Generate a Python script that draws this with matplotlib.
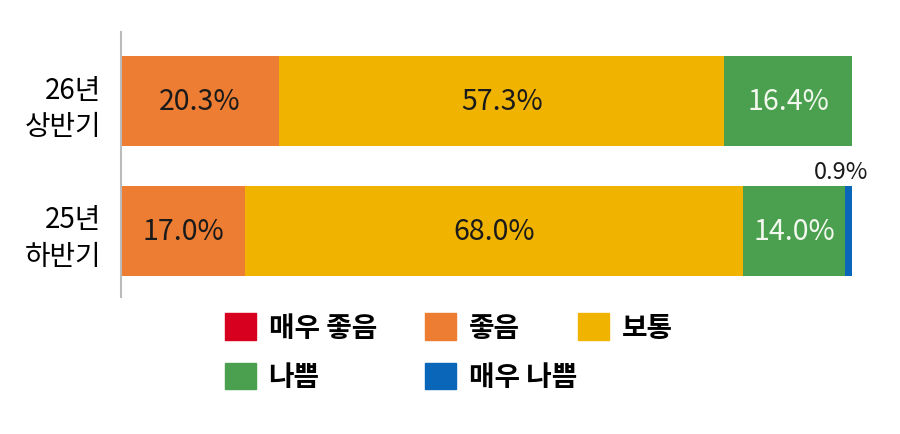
import matplotlib.pyplot as plt
from matplotlib.patches import Patch

plt.rcParams['font.family'] = ['Noto Sans CJK KR', 'DejaVu Sans']

periods = ["25년\n하반기", "26년\n상반기"]
categories = ["매우 좋음", "좋음", "보통", "나쁨", "매우 나쁨"]
colors = ["#D7001F", "#EC7D32", "#F0B400", "#4AA04F", "#0A66B8"]
# rows follow periods order (bottom bar first)
values = [
    [0.0, 17.0, 68.0, 14.0, 0.9],
    [0.0, 20.3, 57.3, 16.4, 0.0],
]
text_colors = ["#1a1a1a", "#1a1a1a", "#1a1a1a", "#f2f8ee", "white"]

fig = plt.figure(figsize=(9, 4.35), dpi=100)
ax = fig.add_axes([121 / 900, 137 / 435, 731 / 900, 265 / 435])

for i, row in enumerate(values):
    total = sum(row)
    left = 0
    for j, v in enumerate(row):
        w = v / total * 100
        if w > 0:
            ax.barh(i, w, left=left, height=0.69, color=colors[j], edgecolor="none")
            if v >= 5:
                ax.text(left + w / 2, i, f"{v:.1f}%", ha="center", va="center",
                        fontsize=20.5, color=text_colors[j])
            else:
                ax.text(left + w + 2.2, i + 0.37, f"{v:.1f}%", ha="right", va="bottom",
                        fontsize=17, color="#1a1a1a")
        left += w

ax.set_xlim(0, 100)
ax.set_ylim(-0.508, 1.531)
ax.set_yticks(range(len(periods)))
ax.set_yticklabels(periods, fontsize=20, linespacing=1.3, ha="right")
ax.tick_params(axis="y", length=0, pad=14)
ax.set_xticks([])
for s in ["top", "right", "bottom"]:
    ax.spines[s].set_visible(False)
ax.spines["left"].set_color("#bbbbbb")
ax.spines["left"].set_linewidth(1.5)

# legend: three columns, left edges at fixed figure positions
handles = [Patch(color=c, label=l) for c, l in zip(colors, categories)]
legend_cols = [[0, 3], [1, 4], [2]]
col_x = [225 / 900, 425 / 900, 578 / 900]
for idxs, x in zip(legend_cols, col_x):
    leg = fig.legend([handles[k] for k in idxs], [categories[k] for k in idxs],
                     loc="upper left", bbox_to_anchor=(x, 1 - 314 / 435), frameon=False,
                     prop={"size": 20, "weight": "bold"}, handlelength=1.1, handleheight=1.1,
                     handletextpad=0.47, labelspacing=0.75, borderpad=0, borderaxespad=0)

fig.savefig("out.png")
